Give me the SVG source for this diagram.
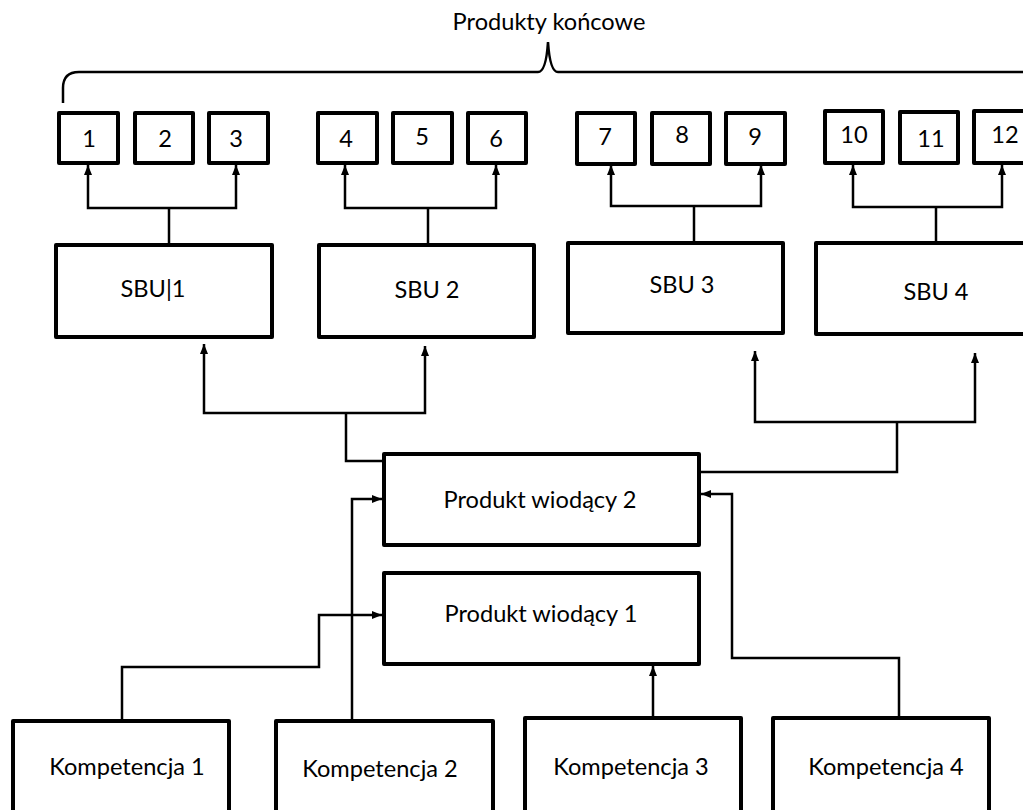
<svg xmlns="http://www.w3.org/2000/svg" width="1023" height="810" viewBox="0 0 1023 810">
  <style>
    .box { fill: #fff; stroke: #000; stroke-width: 4; stroke-linejoin: round; }
    .lbl { font-family: Lato, "Open Sans", "Liberation Sans", sans-serif; font-size: 23.6px; fill: #000; text-anchor: middle; }
    .wire { fill: none; stroke: #000; stroke-width: 2.5; stroke-linejoin: miter; }
    .brace { fill: none; stroke: #000; stroke-width: 2.5; }
  </style>
  <defs>
    <marker id="arrow" markerUnits="userSpaceOnUse" markerWidth="10" markerHeight="10" refX="10" refY="5" orient="auto">
      <path d="M0,1 L10,5 L0,9 z" fill="#000"/>
    </marker>
  </defs>
  <rect width="1023" height="810" fill="#fff"/>

  <!-- heading and curly brace over the end products -->
  <g id="title">
    <text class="lbl" x="549" y="30">Produkty końcowe</text>
    <path class="brace" d="M63,103 L63,88 Q63,72 79,72 L538,72 Q546,72 548,42 Q550,72 558,72 L1030,72"/>
  </g>

  <!-- end products 1..12 -->
  <g id="p1"><rect class="box" x="59" y="113" width="59" height="50"/><text class="lbl" x="89" y="147">1</text></g>
  <g id="p2"><rect class="box" x="135" y="113" width="58" height="50"/><text class="lbl" x="165" y="147">2</text></g>
  <g id="p3"><rect class="box" x="209" y="113" width="59" height="50"/><text class="lbl" x="236" y="147">3</text></g>
  <g id="p4"><rect class="box" x="318" y="113" width="59" height="50"/><text class="lbl" x="346" y="147">4</text></g>
  <g id="p5"><rect class="box" x="393" y="113" width="59" height="50"/><text class="lbl" x="422" y="145">5</text></g>
  <g id="p6"><rect class="box" x="468" y="113" width="58" height="50"/><text class="lbl" x="496" y="147">6</text></g>
  <g id="p7"><rect class="box" x="577" y="113" width="58" height="51"/><text class="lbl" x="605" y="145">7</text></g>
  <g id="p8"><rect class="box" x="652" y="113" width="58" height="51"/><text class="lbl" x="682" y="143">8</text></g>
  <g id="p9"><rect class="box" x="726" y="113" width="59" height="51"/><text class="lbl" x="755" y="145">9</text></g>
  <g id="p10"><rect class="box" x="825" y="111" width="58" height="52"/><text class="lbl" x="854" y="143">10</text></g>
  <g id="p11"><rect class="box" x="900" y="112" width="58" height="51"/><text class="lbl" x="931" y="147">11</text></g>
  <g id="p12"><rect class="box" x="974" y="111" width="60" height="52"/><text class="lbl" x="1005" y="143">12</text></g>

  <!-- strategic business units -->
  <g id="sbu1"><rect class="box" x="56" y="245" width="216" height="92"/><text class="lbl" x="153" y="297">SBU|1</text></g>
  <g id="sbu2"><rect class="box" x="319" y="245" width="215" height="92"/><text class="lbl" x="427" y="298">SBU 2</text></g>
  <g id="sbu3"><rect class="box" x="568" y="243" width="215" height="90"/><text class="lbl" x="682" y="293">SBU 3</text></g>
  <g id="sbu4"><rect class="box" x="816" y="243" width="220" height="91"/><text class="lbl" x="936" y="300">SBU 4</text></g>

  <!-- core products -->
  <g id="pw2"><rect class="box" x="384" y="454" width="315" height="91"/><text class="lbl" x="540" y="508">Produkt wiodący 2</text></g>
  <g id="pw1"><rect class="box" x="384" y="573" width="315" height="91"/><text class="lbl" x="541" y="622">Produkt wiodący 1</text></g>

  <!-- core competencies -->
  <g id="k1"><rect class="box" x="13" y="721" width="216" height="100"/><text class="lbl" x="127" y="775">Kompetencja 1</text></g>
  <g id="k2"><rect class="box" x="276" y="721" width="217" height="100"/><text class="lbl" x="380" y="777">Kompetencja 2</text></g>
  <g id="k3"><rect class="box" x="525" y="718" width="216" height="100"/><text class="lbl" x="631" y="775">Kompetencja 3</text></g>
  <g id="k4"><rect class="box" x="773" y="718" width="216" height="100"/><text class="lbl" x="886" y="775">Kompetencja 4</text></g>

  <g id="connectors">
    <!-- SBU to end products -->
    <path class="wire" d="M169,245 V208"/>
    <path class="wire" d="M169,208 H88 V165" marker-end="url(#arrow)"/>
    <path class="wire" d="M169,208 H236 V165" marker-end="url(#arrow)"/>
    <path class="wire" d="M428,245 V208"/>
    <path class="wire" d="M428,208 H345 V165" marker-end="url(#arrow)"/>
    <path class="wire" d="M428,208 H496 V165" marker-end="url(#arrow)"/>
    <path class="wire" d="M694,243 V206"/>
    <path class="wire" d="M694,206 H611 V165" marker-end="url(#arrow)"/>
    <path class="wire" d="M694,206 H761 V165" marker-end="url(#arrow)"/>
    <path class="wire" d="M936,243 V207"/>
    <path class="wire" d="M936,207 H853 V165" marker-end="url(#arrow)"/>
    <path class="wire" d="M936,207 H1002 V165" marker-end="url(#arrow)"/>

    <!-- core product 2 to SBUs -->
    <path class="wire" d="M384,461 L346,461 V413"/>
    <path class="wire" d="M346,413 H204 V344" marker-end="url(#arrow)"/>
    <path class="wire" d="M346,413 H425 V346" marker-end="url(#arrow)"/>
    <path class="wire" d="M699,472 H897 V422"/>
    <path class="wire" d="M897,422 H755 V351" marker-end="url(#arrow)"/>
    <path class="wire" d="M897,422 H975 V353" marker-end="url(#arrow)"/>

    <!-- competencies to core products -->
    <path class="wire" d="M122,721 V667 H319 V615 H382" marker-end="url(#arrow)"/>
    <path class="wire" d="M352,721 V499 H382" marker-end="url(#arrow)"/>
    <path class="wire" d="M653,718 V666" marker-end="url(#arrow)"/>
    <path class="wire" d="M899,718 V658 H732 V494 H701" marker-end="url(#arrow)"/>
  </g>
</svg>
